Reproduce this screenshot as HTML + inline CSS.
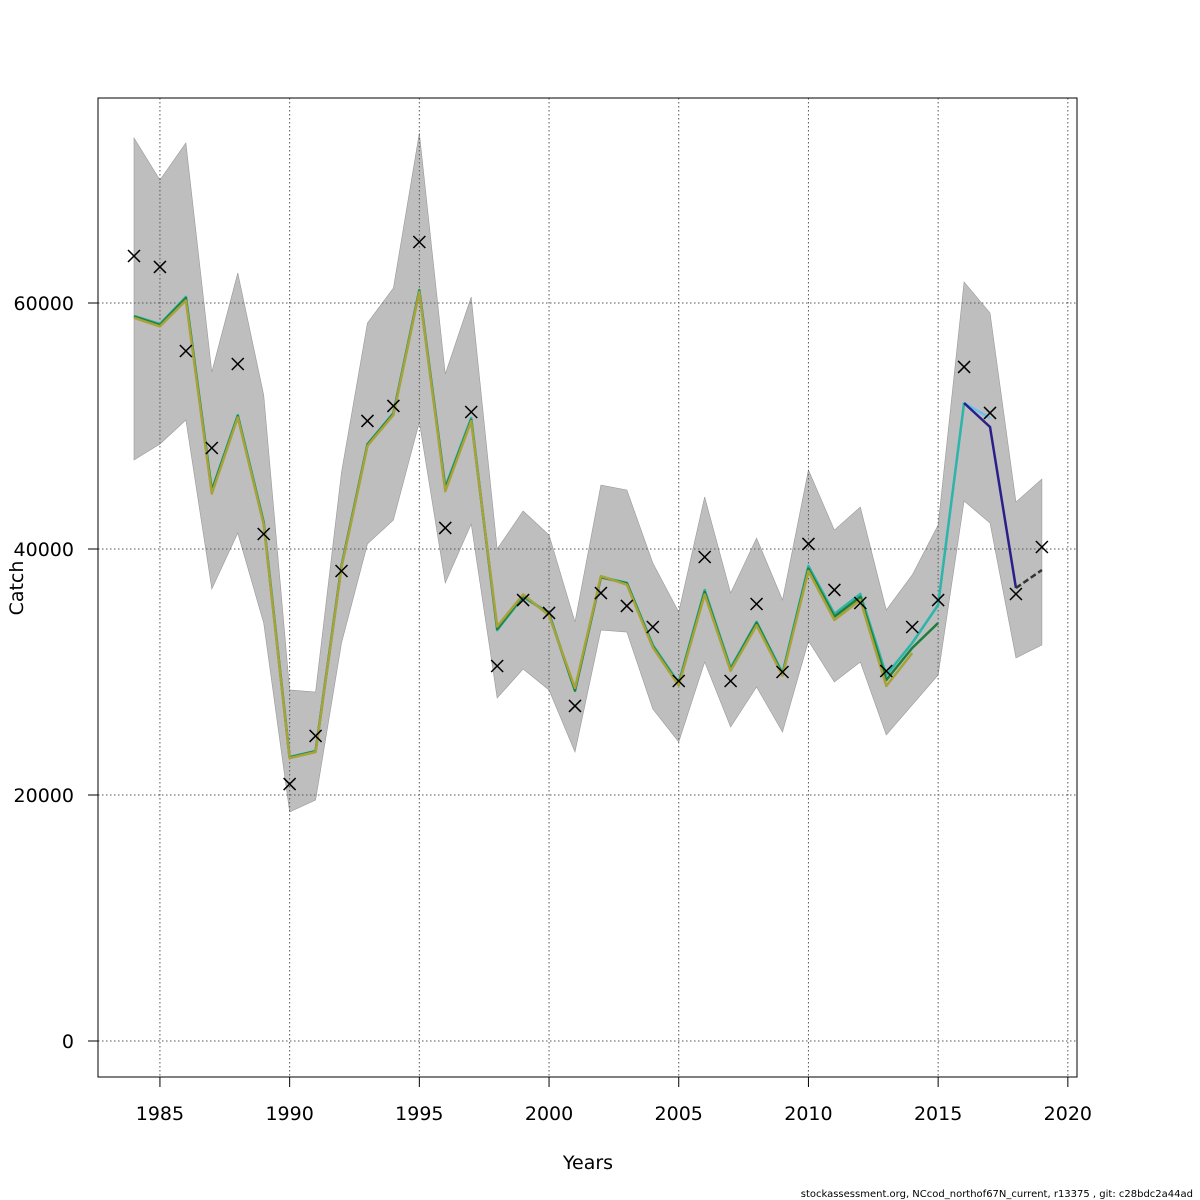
<!DOCTYPE html>
<html><head><meta charset="utf-8"><style>body{margin:0;background:#fff}svg{display:block;font-family:"DejaVu Sans","Liberation Sans",sans-serif}</style></head>
<body>
<svg id="chart" width="1200" height="1200" viewBox="0 0 1200 1200"></svg>
<script>
const years=[1984,1985,1986,1987,1988,1989,1990,1991,1992,1993,1994,1995,1996,1997,1998,1999,2000,2001,2002,2003,2004,2005,2006,2007,2008,2009,2010,2011,2012,2013,2014,2015,2016,2017,2018,2019];
const estimate=[58940,58290,60490,44800,50890,42200,23090,23580,38620,48540,51060,61060,45040,50650,33410,36100,34800,28460,37720,37240,32200,29110,36670,30330,34070,29920,38620,34720,36340,29760,32360,35450,51870,49920,36830];
const forecast2019=38290;
const observed=[63820,62930,56100,48210,55040,41220,20890,24800,38210,50410,51630,64960,41710,51140,30490,35850,34800,27240,36420,35370,33660,29270,39350,29270,35530,30000,40410,36670,35610,30080,33660,35850,54800,51060,36340,40160];
const upper=[73410,70000,73010,54390,62440,52520,28540,28370,46260,58370,61220,73820,54230,60490,40000,43090,41140,34070,45200,44800,38860,34880,44230,36420,40890,35850,46420,41540,43410,35040,37890,41950,61710,59190,43820,45690];
const lower=[47240,48540,50490,36750,41300,33980,18620,19590,32360,40410,42360,50320,37240,42030,27890,30240,28540,23500,33410,33250,26990,24310,30810,25530,28780,25120,32520,29190,30810,24880,27320,29760,43900,42110,31140,32200];
const peelOlive=[58800,58100,60200,44500,50700,42000,23000,23500,38500,48400,50900,60900,44700,50400,33700,36300,34600,28700,37800,37100,32000,28900,36300,30100,33800,29700,38200,34230,35850,28860,31540];
const peelGreen=[58900,58200,60400,44700,50800,42100,23050,23550,38600,48500,51000,61000,44900,50500,33500,36200,34700,28500,37700,37200,32100,29000,36500,30200,34000,29800,38400,34500,36100,29350,31950,33980];
const peelLightBlue=[58940,58290,60490,44800,50890,42200,23090,23580,38620,48540,51060,61060,45040,50650,33410,36100,34800,28460,37720,37240,32200,29110,36670,30330,34070,29920,38620,34720,36340,29760,32360,35450,51870,50650];
const yTicks=[0,20000,40000,60000];
const xTicks=[1985,1990,1995,2000,2005,2010,2015,2020];
const X=y=>134+(y-1984)*25.94;
const Y=v=>1041-v*0.0123;
const svg=document.getElementById('chart');
const NS='http://www.w3.org/2000/svg';
function mk(t,a,p){const e=document.createElementNS(NS,t);for(const k in a)e.setAttribute(k,a[k]);(p||svg).appendChild(e);return e;}
function pts(arr){return arr.map((v,i)=>X(years[i]).toFixed(1)+','+Y(v).toFixed(1)).join(' ');}
let bp=years.map((y,i)=>X(y)+','+Y(upper[i])).concat(years.slice().reverse().map((y,j)=>{const i=years.length-1-j;return X(y)+','+Y(lower[i]);})).join(' ');
let band=mk('polygon',{points:bp,fill:'#bebebe',stroke:'#999','stroke-width':0.6});


xTicks.forEach(t=>{let g=mk('line',{x1:X(t),x2:X(t),y1:98,y2:1077,stroke:'#555','stroke-dasharray':'1.5,2.5','stroke-width':1});


let tk=mk('line',{x1:X(t),x2:X(t),y1:1077,y2:1087,stroke:'#000'});


let tx=mk('text',{x:X(t),y:1120,'font-size':19,'text-anchor':'middle'});tx.textContent=t;

});
yTicks.forEach(t=>{let g=mk('line',{x1:98,x2:1077,y1:Y(t),y2:Y(t),stroke:'#555','stroke-dasharray':'1.5,2.5','stroke-width':1});


let tk=mk('line',{x1:88,x2:98,y1:Y(t),y2:Y(t),stroke:'#000'});


let tx=mk('text',{x:74,y:Y(t)+7,'font-size':19,'text-anchor':'end'});tx.textContent=t;

});
function line(arr,col,name,w){let l=mk('polyline',{points:pts(arr),fill:'none',stroke:col,'stroke-width':w||2.5,'stroke-linejoin':'round'});

}
line(peelLightBlue,'#6cc0ee','peel-2017-line');
line(estimate.slice(0,33),'#2fb5a8','peel-2016-line');
line(peelGreen,'#1d7f3a','peel-2015-line');
line(peelOlive,'#a8a23a','peel-2014-line');
let nv=mk('polyline',{points:[32,33,34].map(i=>X(years[i])+','+Y(estimate[i])).join(' '),fill:'none',stroke:'#2a1f8a','stroke-width':2.5});


let fc=mk('line',{x1:X(2018),y1:Y(estimate[34]),x2:X(2019),y2:Y(forecast2019),stroke:'#333','stroke-width':2.5,'stroke-dasharray':'6,3'});


observed.forEach((v,i)=>{let cx=X(years[i]),cy=Y(v),s=6;
let c=mk('path',{d:`M${cx-s},${cy-s}L${cx+s},${cy+s}M${cx-s},${cy+s}L${cx+s},${cy-s}`,stroke:'#000','stroke-width':1.5});

});
let box=mk('rect',{x:98,y:98,width:979,height:979,fill:'none',stroke:'#000','stroke-width':1});


let xl=mk('text',{x:588,y:1169,'font-size':19,'text-anchor':'middle'});xl.textContent='Years';


let yl=mk('text',{x:0,y:0,'font-size':19,'text-anchor':'middle',transform:'translate(23,588) rotate(-90)'});yl.textContent='Catch';


let ft=mk('text',{x:1193,y:1197,'font-size':10,'text-anchor':'end'});ft.textContent='stockassessment.org, NCcod_northof67N_current, r13375 , git: c28bdc2a44ad';


</script>
</body></html>
